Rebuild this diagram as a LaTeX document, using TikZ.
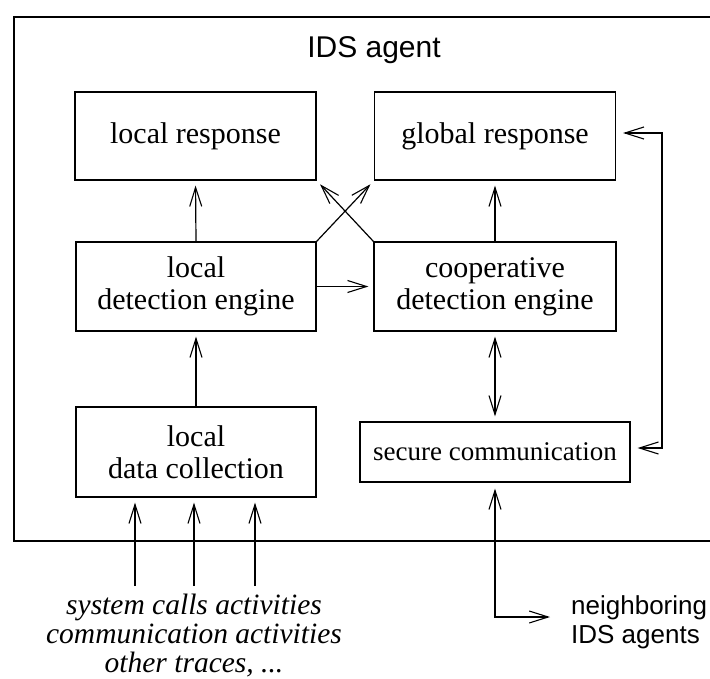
\documentclass[tikz,border=0pt]{standalone}
\usepackage{fontspec}
\setmainfont{Liberation Serif}
\newfontfamily\sansf{Liberation Sans}
\usetikzlibrary{arrows.meta}
\begin{document}
\begin{tikzpicture}[x=1pt,y=-1pt,
  box/.style={draw,line width=1.2pt,inner sep=0pt,align=center,
    font=\fontsize{30}{32}\selectfont},
  arr/.style={line width=1.2pt,-{Straight Barb[length=19pt,width=12pt,line width=1.1pt]},shorten >=5pt},
  darr/.style={line width=1.2pt,{Straight Barb[length=19pt,width=12pt,line width=1.1pt]}-{Straight Barb[length=19pt,width=12pt,line width=1.1pt]},shorten >=5pt,shorten <=5pt},
  frame/.style={line width=1.2pt}]
\useasboundingbox (0,0) rectangle (710,678);
\fill[white] (0,0) rectangle (710,678);
% outer frame (open on the right)
\draw[frame] (710,17) -- (14,17) -- (14,541) -- (710,541);
\node[font=\sansf\fontsize{30}{32}\selectfont] (title) at (374,50) {IDS agent};
% boxes
\node[box,minimum width=241pt,minimum height=88pt] (lr) at (195.5,136) {local response};
\node[box,minimum width=241pt,minimum height=88pt] (gr) at (495,136) {global response};
\node[box,minimum width=240pt,minimum height=89pt] (lde) at (196,286.5) {local\\detection engine};
\node[box,minimum width=242pt,minimum height=89pt] (cde) at (495,286.5) {cooperative\\detection engine};
\node[box,minimum width=240pt,minimum height=90pt] (ldc) at (196,452) {local\\data collection};
\node[box,minimum width=270pt,minimum height=60pt,font=\fontsize{27}{30}\selectfont] (sc) at (495,452) {secure communication};
% connectors
\draw[arr] (lde.north) -- (lr.south);
\draw[arr] (cde.north) -- (gr.south);
\draw[arr] (ldc.north) -- (lde.south);
\draw[arr] (lde.east) -- (cde.west);
\draw[arr] (lde.north east) -- (gr.south west);
\draw[arr] (cde.north west) -- (lr.south east);
\draw[darr] (cde.south) -- (sc.north);
\coordinate (fb) at (662,133);
\draw[darr,shorten >=7pt,shorten <=7pt] ([yshift=3pt]gr.east) -- (fb) |- ([yshift=4pt]sc.east);
% inputs
\coordinate (in1) at (135,586);
\coordinate (in2) at (194,586);
\coordinate (in3) at (255,586);
\draw[arr] (in1) -- (in1 |- ldc.south);
\draw[arr] (in2) -- (in2 |- ldc.south);
\draw[arr] (in3) -- (in3 |- ldc.south);
\node[font=\itshape\fontsize{29.5}{29}\selectfont,align=center,inner sep=0pt] (src) at (194,636)
  {system calls activities\\communication activities\\other traces, ...};
% neighbours
\coordinate (nb) at (550,617);
\draw[darr,shorten >=0pt,shorten <=6pt] (sc.south) |- (nb);
\node[font=\sansf\fontsize{26}{29}\selectfont,align=left,anchor=west,inner sep=0pt] (nbt) at (571,622)
  {neighboring\\IDS agents};
\end{tikzpicture}
\end{document}
